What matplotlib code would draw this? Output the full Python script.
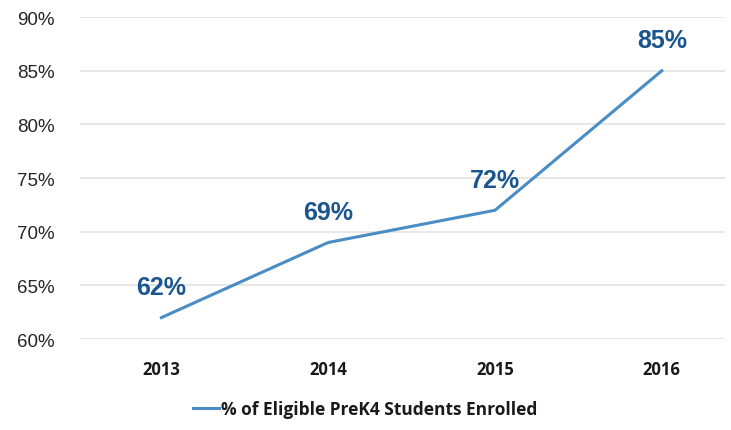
import matplotlib
matplotlib.use('Agg')
import matplotlib.pyplot as plt

# Data
years = ['2013', '2014', '2015', '2016']
enrolled = [62, 69, 72, 85]
y_ticks = [60, 65, 70, 75, 80, 85, 90]
series_name = '% of Eligible PreK4 Students Enrolled'

line_color = '#4a8cc4'
label_color = '#1b558f'

fig = plt.figure(figsize=(7.31, 4.31), dpi=100)
ax = fig.add_axes([0.109, 0.211, 0.883, 0.747])

x = list(range(len(years)))
ax.plot(x, enrolled, color=line_color, linewidth=2.2, label=series_name)

# value labels above each point
for xi, v in zip(x, enrolled):
    ax.annotate(f'{v}%', (xi, v), xytext=(0, 22), textcoords='offset points',
                ha='center', va='center', fontsize=18, fontweight='bold',
                color=label_color, family='Liberation Sans')

ax.set_xlim(-0.49, 3.38)
ax.set_ylim(60, 90)
ax.set_yticks(y_ticks)
ax.set_yticklabels([f'{t}%' for t in y_ticks], fontsize=13.5, color='#262626',
                   family='Liberation Sans')
ax.set_xticks(x)
ax.set_xticklabels(years, fontsize=12, fontweight='bold', color='#1a1a1a',
                   family='Open Sans')
ax.tick_params(axis='y', length=0, pad=18)
ax.tick_params(axis='x', length=0, pad=15)

ax.grid(axis='y', color='#e3e3e3', linewidth=1.2)
ax.set_axisbelow(True)
for s in ax.spines.values():
    s.set_visible(False)

leg = fig.legend(loc='center', bbox_to_anchor=(0.5, 0.048), frameon=False,
                 handlelength=1.5, handletextpad=0.1,
                 prop={'family': 'Open Sans', 'weight': 'bold', 'size': 12.5})
for t in leg.get_texts():
    t.set_color('#1a1a1a')

fig.savefig('out.png', dpi=100)
